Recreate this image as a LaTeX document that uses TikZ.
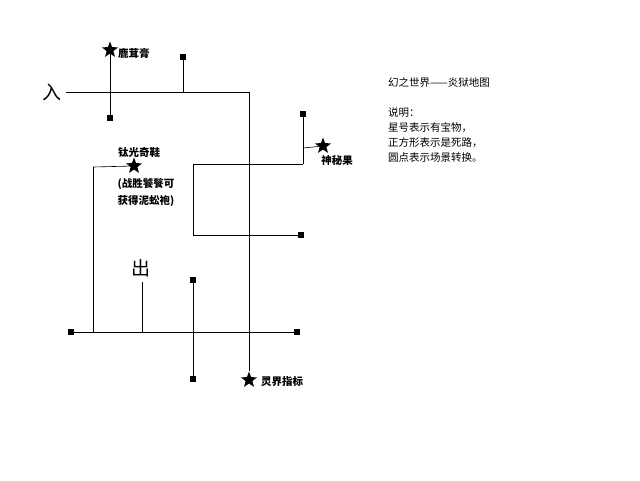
\documentclass[tikz,border=0pt]{standalone}
\usepackage{fontspec}
\setmainfont{Noto Sans CJK SC}
\usetikzlibrary{shapes.geometric}
\begin{document}
\begin{tikzpicture}[x=1pt,y=-1pt]
    \tikzstyle{edge}=[draw=black,semithick,-]
    \tikzstyle{dead}=[rectangle,fill=black,minimum size=6pt,inner sep=0pt]
    \tikzstyle{treasure}=[star,star points=5,star point ratio=2.4,fill=black,minimum size=17pt,inner sep=0pt]
    \tikzstyle{label}=[font=\fontsize{10.5}{11}\selectfont\bfseries,inner sep=0pt]
    \tikzstyle{big}=[font=\fontsize{19}{19}\selectfont,inner sep=0pt]
    \tikzstyle{note}=[font=\fontsize{10.5}{15}\selectfont,align=left,anchor=north west,inner sep=0pt]

    \useasboundingbox (0,0) rectangle (640,480);

    % entrance and exit
    \node[big] (in)  at (52,92)  {入};
    \node[big] (out) at (141,268) {出};

    % junctions
    \coordinate (j1) at (249,92);
    \coordinate (j3) at (183,92);
    \coordinate (j5) at (193,164);
    \coordinate (j6) at (303,164);
    \coordinate (j7) at (303,148);
    \coordinate (j8) at (193,235);
    \coordinate (j9) at (93,167);
    \coordinate (j10) at (93,332);
    \coordinate (j11) at (142,332);
    \coordinate (e1) at (66,92);
    \coordinate (o1) at (142,282);

    % dead ends
    \node[dead] (s1) at (110,118) {};
    \node[dead] (s2) at (183,57)  {};
    \node[dead] (s3) at (303,114) {};
    \node[dead] (s4) at (301,235) {};
    \node[dead] (s5) at (71,332)  {};
    \node[dead] (s6) at (297,332) {};
    \node[dead] (s7) at (193,280) {};
    \node[dead] (s8) at (193,379) {};

    % treasures
    \node[treasure] (t1) at (110,50)  {};
    \node[treasure] (t2) at (323,146) {};
    \node[treasure] (t3) at (134,166) {};
    \node[treasure] (t4) at (249,380) {};

    \node[label,anchor=west] at (118,53) {鹿茸膏};
    \node[label] at (337,160) {神秘果};
    \node[label] at (139,153) {钛光奇鞋};
    \node[label] at (146,184) {(战胜饕餮可};
    \node[label] at (146,201) {获得泥蚣袍)};
    \node[label,anchor=west] at (261,382) {灵界指标};

    \path[edge] (e1) -- (j1);
    \path[edge] (j1) -- (t4);
    \path[edge] (t1) -- (s1);
    \path[edge] (s2) -- (j3);
    \path[edge] (j5) -- (j6);
    \path[edge] (s3) -- (j6);
    \path[edge] (j7) -- (t2);
    \path[edge] (j5) -- (j8);
    \path[edge] (j8) -- (s4);
    \path[edge] (j10) -- (j9);
    \path[edge] (j9) -- (t3);
    \path[edge] (s5) -- (s6);
    \path[edge] (o1) -- (j11);
    \path[edge] (s7) -- (s8);

    % legend
    \node[note] (title) at (388,77) {幻之世界——炎狱地图};
    \node[note] (legend) at (388,107) {说明：\\星号表示有宝物，\\正方形表示是死路，\\圆点表示场景转换。};
\end{tikzpicture}
\end{document}
